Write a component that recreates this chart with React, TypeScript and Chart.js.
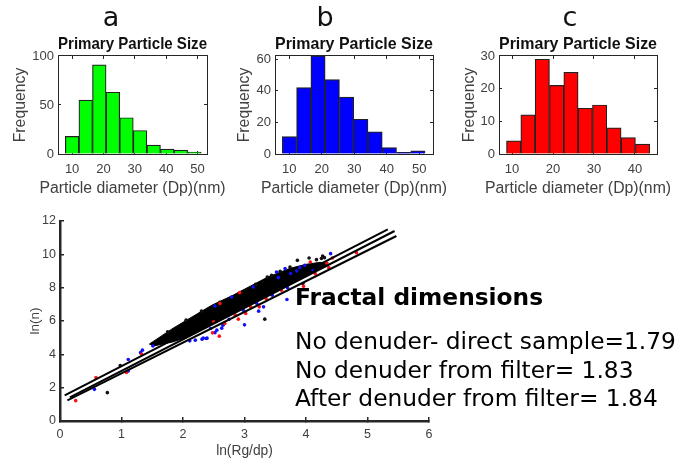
import React, { useEffect, useRef } from "react";
import { Chart, registerables } from "chart.js";

Chart.register(...registerables);

const histTitle = "Primary Particle Size";
const histXLabel = "Particle diameter (Dp)(nm)";
const histYLabel = "Frequency";

const aCenters = [10, 14.33, 18.66, 23, 27.33, 31.66, 36, 40.33, 44.66, 49];
const aCounts = [18, 55, 91, 63, 37, 24, 9, 5, 4, 2];
const bCenters = [10.05, 14.44, 18.83, 23.22, 27.61, 32, 36.39, 40.78, 45.17, 49.56];
const bCounts = [11, 42, 62, 47, 36, 22, 14, 4, 1, 2];
const cCenters = [10.38, 13.88, 17.38, 20.88, 24.38, 27.88, 31.38, 34.88, 38.38, 41.88];
const cCounts = [4, 12, 29, 21, 25, 14, 15, 8, 5, 3];

const line1 = [{ x: 0.076, y: 1.54 }, { x: 5.33, y: 11.5 }];
const line2 = [{ x: 0.16, y: 1.42 }, { x: 5.44, y: 11.4 }];
const line3 = [{ x: 0.12, y: 1.24 }, { x: 5.47, y: 11.1 }];

const cloudOutline = [
  { x: 1.45, y: 4.61 }, { x: 1.84, y: 5.57 }, { x: 2.15, y: 6.25 }, { x: 2.47, y: 6.95 },
  { x: 2.81, y: 7.54 }, { x: 3.1, y: 8.1 }, { x: 3.37, y: 8.62 }, { x: 3.74, y: 9.16 },
  { x: 4.0, y: 9.4 }, { x: 4.23, y: 9.52 }, { x: 4.34, y: 9.45 }, { x: 4.34, y: 9.3 },
  { x: 4.0, y: 8.72 }, { x: 3.5, y: 7.74 }, { x: 3.0, y: 6.78 }, { x: 2.5, y: 5.85 },
  { x: 2.0, y: 4.95 }, { x: 1.84, y: 4.75 }, { x: 1.51, y: 4.49 },
];

const blackPoints = [
  { x: 0.77, y: 1.7 }, { x: 0.98, y: 3.33 }, { x: 3.33, y: 6.11 }, { x: 3.86, y: 9.64 },
  { x: 4.05, y: 9.78 }, { x: 4.17, y: 9.68 }, { x: 4.27, y: 9.9 }, { x: 4.25, y: 9.75 },
  { x: 4.3, y: 9.8 }, { x: 3.74, y: 9.24 }, { x: 3.44, y: 8.74 }, { x: 3.37, y: 8.64 },
  { x: 3.18, y: 8.2 }, { x: 3.95, y: 8.25 }, { x: 2.95, y: 7.72 }, { x: 2.6, y: 7.12 },
  { x: 2.3, y: 6.6 }, { x: 2.05, y: 6.05 }, { x: 1.75, y: 5.35 }, { x: 3.58, y: 8.98 },
];

const bluePoints = [
  { x: 0.56, y: 1.9 }, { x: 1.11, y: 3.69 }, { x: 1.11, y: 3.0 }, { x: 1.34, y: 4.25 },
  { x: 1.31, y: 4.1 }, { x: 1.51, y: 4.5 }, { x: 4.4, y: 10.04 }, { x: 3.69, y: 7.29 },
  { x: 3.0, y: 5.77 }, { x: 3.31, y: 6.85 }, { x: 3.23, y: 6.59 }, { x: 2.65, y: 5.75 },
  { x: 2.55, y: 5.45 }, { x: 2.38, y: 4.95 }, { x: 2.31, y: 4.91 }, { x: 2.11, y: 4.81 },
  { x: 3.66, y: 9.14 }, { x: 3.52, y: 8.94 }, { x: 3.98, y: 9.34 }, { x: 3.9, y: 9.2 },
  { x: 2.52, y: 6.9 }, { x: 2.79, y: 7.44 }, { x: 3.14, y: 8.04 }, { x: 2.33, y: 4.97 },
  { x: 2.39, y: 4.97 }, { x: 2.63, y: 5.57 }, { x: 2.52, y: 5.3 }, { x: 2.2, y: 4.85 },
  { x: 2.98, y: 6.65 }, { x: 3.2, y: 7.05 }, { x: 3.45, y: 7.55 }, { x: 3.7, y: 8.0 },
  { x: 3.85, y: 9.0 }, { x: 3.75, y: 8.85 }, { x: 4.1, y: 9.1 }, { x: 3.55, y: 8.6 },
  { x: 2.75, y: 6.1 }, { x: 2.45, y: 5.55 },
];

const redPoints = [
  { x: 0.255, y: 1.22 }, { x: 0.585, y: 2.6 }, { x: 1.08, y: 2.91 }, { x: 1.33, y: 4.0 },
  { x: 2.59, y: 5.09 }, { x: 2.48, y: 5.29 }, { x: 2.49, y: 6.0 }, { x: 2.6, y: 7.05 },
  { x: 2.68, y: 5.85 }, { x: 4.82, y: 10.1 }, { x: 2.9, y: 6.11 }, { x: 3.02, y: 6.45 },
  { x: 3.24, y: 6.85 }, { x: 4.43, y: 9.78 }, { x: 4.34, y: 9.48 }, { x: 4.15, y: 8.84 },
  { x: 4.37, y: 9.2 }, { x: 4.07, y: 9.54 }, { x: 2.92, y: 7.7 }, { x: 3.96, y: 8.08 },
  { x: 2.85, y: 6.35 }, { x: 3.1, y: 6.85 }, { x: 3.35, y: 7.35 }, { x: 3.6, y: 7.85 },
];

const headingText = "Fractal dimensions";
const noteLines = [
  "No denuder- direct sample=1.79",
  "No denuder from filter= 1.83",
  "After denuder from filter= 1.84",
];
const panelLetters = ["a", "b", "c"];

const SANS = "'Liberation Sans', Arial, sans-serif";
const INK = "#262626";
const LABEL = "#404040";

function hiddenAxis(position: string, min: number, max: number, step: number) {
  const vertical = position === "right";
  return {
    type: "linear",
    position,
    min,
    max,
    offset: false,
    border: { display: true, color: INK, width: 1 },
    grid: { drawOnChartArea: false, drawTicks: true, tickLength: -3, color: INK, offset: false },
    ticks: { display: false, stepSize: step, includeBounds: false },
    afterFit: (s: any) => {
      if (vertical) s.width = 0;
      else s.height = 0;
    },
  };
}

const centeredXLabel = {
  id: "centeredXLabel",
  afterDraw(chart: any) {
    const { ctx, chartArea } = chart;
    ctx.save();
    ctx.font = `15.8px ${SANS}`;
    ctx.fillStyle = LABEL;
    ctx.textAlign = "center";
    ctx.textBaseline = "middle";
    ctx.fillText(histXLabel, (chartArea.left + chartArea.right) / 2, chartArea.bottom + 34.5);
    ctx.restore();
  },
};

type HistProps = {
  left: number; top: number; width: number; height: number; yWidth: number; rightPad: number; yTitlePad: number;
  centers: number[]; counts: number[]; color: string;
  xMin: number; xMax: number; yMax: number; yStep: number;
};

function Histogram(p: HistProps) {
  const ref = useRef<HTMLCanvasElement>(null);
  useEffect(() => {
    const chart = new Chart(ref.current as HTMLCanvasElement, {
      type: "bar",
      plugins: [centeredXLabel],
      data: {
        datasets: [{
          data: p.centers.map((x, i) => ({ x, y: p.counts[i] })),
          backgroundColor: p.color,
          borderColor: "#222222",
          borderWidth: 1.2,
          categoryPercentage: 1,
          barPercentage: 1,
        }],
      },
      options: {
        animation: false,
        responsive: false,
        layout: { padding: { left: 0, top: 0, bottom: 0, right: p.rightPad } },
        plugins: {
          legend: { display: false },
          tooltip: { enabled: false },
          title: {
            display: true,
            text: histTitle,
            fullSize: false,
            color: "#111111",
            font: { family: SANS, size: 16.3, weight: "bold", lineHeight: 1.2 },
            padding: { top: 4.6, bottom: 1.8 },
          },
        },
        scales: {
          x: {
            type: "linear",
            position: "bottom",
            min: p.xMin,
            max: p.xMax,
            offset: false,
            border: { color: INK, width: 1 },
            grid: { offset: false, drawOnChartArea: false, tickLength: -3, color: INK },
            ticks: { stepSize: 10, includeBounds: false, maxRotation: 0, color: LABEL, padding: 11, font: { family: SANS, size: 13 } },
            afterFit: (s: any) => { s.height = 51; },
          },
          y: {
            type: "linear",
            position: "left",
            min: 0,
            max: p.yMax,
            border: { color: INK, width: 1 },
            grid: { drawOnChartArea: false, tickLength: -3, color: INK },
            ticks: { stepSize: p.yStep, includeBounds: false, color: LABEL, padding: 7, font: { family: SANS, size: 13 } },
            title: { display: true, text: histYLabel, color: LABEL, padding: { top: p.yTitlePad, bottom: 0 }, font: { family: SANS, size: 15.8 } },
            afterFit: (s: any) => { s.width = p.yWidth; },
          },
          xTop: hiddenAxis("top", p.xMin, p.xMax, 10),
          yRight: hiddenAxis("right", 0, p.yMax, p.yStep),
        },
      } as any,
    });
    return () => chart.destroy();
  }, []);
  return (
    <canvas
      ref={ref}
      width={p.width}
      height={p.height}
      style={{ position: "absolute", left: p.left, top: p.top, width: p.width, height: p.height }}
    />
  );
}

function ScatterPanel() {
  const ref = useRef<HTMLCanvasElement>(null);
  useEffect(() => {
    const dot = (data: any[], color: string, order: number) => ({
      data,
      backgroundColor: color,
      borderColor: color,
      pointRadius: 1.8,
      pointBorderWidth: 0,
      showLine: false,
      order,
    });
    const fit = (data: any[]) => ({
      data,
      borderColor: "#000000",
      borderWidth: 2,
      pointRadius: 0,
      showLine: true,
      fill: false,
      order: 0,
    });
    const chart = new Chart(ref.current as HTMLCanvasElement, {
      type: "scatter",
      data: {
        datasets: [
          fit(line1),
          fit(line2),
          fit(line3),
          dot(redPoints, "#ff1010", 1),
          dot(bluePoints, "#1010ff", 2),
          dot(blackPoints, "#111111", 3),
          {
            data: cloudOutline,
            borderColor: "#000000",
            backgroundColor: "#000000",
            borderWidth: 1,
            pointRadius: 0,
            showLine: true,
            fill: "shape",
            order: 4,
          },
        ],
      },
      options: {
        animation: false,
        responsive: false,
        layout: { padding: { top: 16, right: 16, left: 0, bottom: 0 } },
        plugins: { legend: { display: false }, tooltip: { enabled: false } },
        scales: {
          x: {
            type: "linear",
            min: 0,
            max: 6,
            border: { color: INK, width: 2.5 },
            grid: { drawOnChartArea: false, tickLength: -4, color: INK, lineWidth: 1.5 },
            ticks: { stepSize: 1, color: LABEL, padding: 10, maxRotation: 0, font: { family: SANS, size: 12.5 } },
            title: { display: true, text: "ln(Rg/dp)", color: LABEL, padding: { top: 1, bottom: 0 }, font: { family: SANS, size: 13.8 } },
            afterFit: (s: any) => { s.height = 38; },
          },
          y: {
            type: "linear",
            min: 0,
            max: 12,
            border: { color: INK, width: 2.5 },
            grid: { drawOnChartArea: false, tickLength: -4, color: INK, lineWidth: 1.5 },
            ticks: { stepSize: 2, color: LABEL, padding: 8, font: { family: SANS, size: 12.5 } },
            title: { display: true, text: "ln(n)", color: LABEL, padding: { top: 27, bottom: 0 }, font: { family: SANS, size: 13.5 } },
            afterFit: (s: any) => { s.width = 60; },
          },
        },
      } as any,
    });
    return () => chart.destroy();
  }, []);
  return (
    <canvas
      ref={ref}
      width={445}
      height={254}
      style={{ position: "absolute", left: 0, top: 205, width: 445, height: 254 }}
    />
  );
}

const noteStyle: React.CSSProperties = {
  position: "absolute",
  left: 295,
  fontFamily: "'DejaVu Sans', sans-serif",
  fontSize: 23.3,
  lineHeight: "30px",
  color: "#000",
  whiteSpace: "nowrap",
};

const letterStyle: React.CSSProperties = {
  position: "absolute",
  top: 0,
  width: 40,
  textAlign: "center",
  fontFamily: "'DejaVu Sans', sans-serif",
  fontSize: 27,
  lineHeight: "34px",
  color: "#111",
};

export default function App() {
  return (
    <div style={{ position: "absolute", left: 0, top: 0, width: 688, height: 459, overflow: "hidden", background: "#fff" }}>
      <Histogram left={0} top={30} width={240} height={175} yWidth={58} rightPad={33} yTitlePad={11} centers={aCenters} counts={aCounts} color="#00ff00" xMin={5.5} xMax={53} yMax={100} yStep={50} />
      <Histogram left={227} top={30} width={240} height={175} yWidth={48} rightPad={34} yTitlePad={8} centers={bCenters} counts={bCounts} color="#0000ff" xMin={5.6} xMax={54.2} yMax={62} yStep={20} />
      <Histogram left={451} top={30} width={237} height={175} yWidth={48} rightPad={31} yTitlePad={9} centers={cCenters} counts={cCounts} color="#ff0000" xMin={6.8} xMax={45.4} yMax={30} yStep={10} />
      <ScatterPanel />
      <div style={{ ...letterStyle, left: 91 }}>{panelLetters[0]}</div>
      <div style={{ ...letterStyle, left: 305 }}>{panelLetters[1]}</div>
      <div style={{ ...letterStyle, left: 550 }}>{panelLetters[2]}</div>
      <div style={{ ...noteStyle, top: 282, fontWeight: "bold" }}>{headingText}</div>
      {noteLines.map((t, i) => (
        <div key={t} style={{ ...noteStyle, top: 326 + i * 28.5 }}>{t}</div>
      ))}
    </div>
  );
}
